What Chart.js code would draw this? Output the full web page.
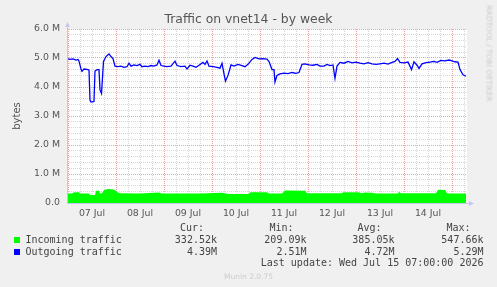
<!DOCTYPE html>
<html>
<head>
<meta charset="utf-8">
<script src="https://cdn.jsdelivr.net/npm/chart.js@4.4.1/dist/chart.umd.min.js"></script>
<style>
  body { margin: 0; background: #f0f0f0; }
  #wrap { position: relative; width: 497px; height: 287px; background: #f0f0f0; overflow: hidden; font-family: 'DejaVu Sans', sans-serif; }
  #wrap canvas { position: absolute; left: 0; top: 0; }
  .t { position: absolute; white-space: pre; color: #555; }
  .mono { font-family: 'DejaVu Sans Mono', monospace; font-size: 10px; line-height: 12px; color: #444; }
  .sq { position: absolute; width: 6px; height: 6px; }
</style>
</head>
<body>
<div id="wrap">
  <canvas id="c" width="497" height="287"></canvas>
</div>
<script>
// x values are hours after 07 Jul 00:00, y values in millions of bytes
const dayLabels = ['07 Jul', '08 Jul', '09 Jul', '10 Jul', '11 Jul', '12 Jul', '13 Jul', '14 Jul'];
const yTickLabels = ['0.0', '1.0 M', '2.0 M', '3.0 M', '4.0 M', '5.0 M', '6.0 M'];

const outHours = [-0.5, 1, 2.5, 4, 5, 5.5, 6.5, 7, 8, 10, 10.5, 11, 11.5, 13, 13.5, 14.5, 15.5, 16, 16.75, 17.75,
  19, 20.5, 21.5, 22.5, 23.5, 25, 26.5, 28, 29.5, 30.5, 31.5, 33, 34.5, 36, 37, 38.5, 40, 41.5, 43, 44.5,
  45.5, 46.5, 48, 49.5, 51.5, 53.5, 54.5, 56.5, 58.5, 59.5, 61, 62.5, 64, 65.5, 67.5, 68.5, 69.5, 70.5, 72.5, 74.5,
  76, 77, 78, 78.75, 80, 81.5, 83, 85, 87, 88.5, 90, 92, 93.5, 95.5, 97.5, 99.5, 100.5, 102, 103, 103.5,
  104.5, 106, 108, 110, 112, 114, 115.5, 117, 118.5, 120.5, 122.5, 124.5, 126, 128, 129.5, 131, 132.5, 133.5, 134.5, 136,
  138, 140, 142, 144, 146, 148, 150, 152, 154, 156, 158, 160, 162, 163.5, 164.75, 166, 168, 170, 171.75, 173,
  174.5, 175.5, 177, 179, 181, 183, 184.5, 186.5, 188.5, 190.5, 192, 193.5, 195, 196, 197.5, 199];
const outValues = [4.98, 4.95, 4.97, 4.93, 4.95, 4.89, 4.62, 4.54, 4.62, 4.6, 4.58, 3.55, 3.48, 3.5, 4.55, 4.6, 4.6, 3.9, 3.78, 4.88,
  5.05, 5.14, 5.05, 4.98, 4.72, 4.7, 4.72, 4.68, 4.7, 4.82, 4.72, 4.76, 4.74, 4.78, 4.7, 4.72, 4.7, 4.74, 4.72, 4.76,
  4.92, 4.74, 4.72, 4.7, 4.72, 4.89, 4.74, 4.7, 4.72, 4.62, 4.75, 4.72, 4.68, 4.75, 4.85, 4.78, 4.9, 4.72, 4.7, 4.68,
  4.65, 4.82, 4.45, 4.2, 4.4, 4.76, 4.72, 4.78, 4.74, 4.7, 4.78, 4.95, 5.02, 4.97, 4.98, 4.96, 4.88, 4.6, 4.6, 4.17,
  4.4, 4.45, 4.48, 4.46, 4.5, 4.47, 4.5, 4.78, 4.8, 4.76, 4.75, 4.78, 4.72, 4.72, 4.78, 4.74, 4.76, 4.3, 4.72, 4.85,
  4.82, 4.88, 4.83, 4.86, 4.82, 4.8, 4.84, 4.8, 4.78, 4.8, 4.82, 4.79, 4.85, 4.88, 4.98, 4.85, 4.83, 4.86, 4.6, 4.87,
  4.75, 4.64, 4.8, 4.84, 4.86, 4.88, 4.85, 4.92, 4.9, 4.93, 4.9, 4.87, 4.86, 4.6, 4.42, 4.37];

const inHours = [-0.5, 2, 3, 5.5, 6, 10.5, 11, 13.5, 14, 15.5, 16, 17, 18, 20, 22, 23.5, 24.5, 26, 36, 45.5,
  47, 66, 77, 79, 80.5, 90.5, 91, 99.5, 100.5, 107, 108.5, 118.5, 119.5, 137, 137.5, 145.5, 146.5, 148.5, 152, 154,
  165, 165.5, 166.5, 184, 185, 188.5, 189.5, 199];
const inValues = [0.33, 0.33, 0.37, 0.37, 0.33, 0.33, 0.28, 0.28, 0.42, 0.42, 0.33, 0.34, 0.45, 0.48, 0.47, 0.45, 0.38, 0.34, 0.33, 0.36,
  0.33, 0.33, 0.35, 0.33, 0.31, 0.31, 0.37, 0.37, 0.33, 0.33, 0.43, 0.42, 0.34, 0.34, 0.37, 0.37, 0.34, 0.36, 0.35, 0.33,
  0.33, 0.39, 0.34, 0.34, 0.46, 0.45, 0.33, 0.33];

const seriesNames = ['Incoming traffic', 'Outgoing traffic'];
const seriesColors = ['#00ff00', '#0000ff'];
const statHeads = ['Cur:', 'Min:', 'Avg:', 'Max:'];
const inStats = ['332.52k', '209.09k', '385.05k', '547.66k'];
const outStats = ['4.39M', '2.51M', '4.72M', '5.29M'];

const wrap = document.getElementById('wrap');
function addText(text, css, cls) {
    const d = document.createElement('div');
    d.className = 't' + (cls ? ' ' + cls : '');
    d.textContent = text;
    Object.assign(d.style, css);
    wrap.appendChild(d);
    return d;
}

const toPts = (hs, vs) => hs.map((h, i) => ({ x: h, y: vs[i] }));

const plotBg = {
    id: 'plotBg',
    beforeDraw(chart) {
        const { ctx, chartArea: a } = chart;
        ctx.save();
        ctx.fillStyle = '#ffffff';
        ctx.fillRect(a.left, a.top, a.right - a.left, a.bottom - a.top);
        ctx.restore();
    }
};

const axisArrows = {
    id: 'axisArrows',
    afterDatasetsDraw(chart) {
        const { ctx, chartArea: a } = chart;
        const x0 = a.left + 0.5, y0 = a.bottom + 0.5;
        ctx.save();
        ctx.strokeStyle = ctx.fillStyle = '#c6c6f0';
        ctx.lineWidth = 1;
        ctx.beginPath();
        ctx.moveTo(x0, a.bottom + 1);
        ctx.lineTo(x0, a.top - 3);
        ctx.moveTo(a.left, y0);
        ctx.lineTo(a.right + 3, y0);
        ctx.stroke();
        ctx.beginPath();
        ctx.moveTo(x0, a.top - 7);
        ctx.lineTo(x0 - 2.5, a.top - 2);
        ctx.lineTo(x0 + 2.5, a.top - 2);
        ctx.closePath();
        ctx.moveTo(a.right + 7, y0);
        ctx.lineTo(a.right + 2, y0 - 2.5);
        ctx.lineTo(a.right + 2, y0 + 2.5);
        ctx.closePath();
        ctx.fill();
        ctx.restore();
    }
};

const tickFont = { family: 'DejaVu Sans', size: 9.4 };
const majorGrid = '#eba4a4';
const minorGrid = '#d6d6d6';

new Chart(document.getElementById('c'), {
    type: 'line',
    data: {
        datasets: [
            {
                label: seriesNames[0],
                data: toPts(inHours, inValues),
                borderWidth: 0,
                borderColor: seriesColors[0],
                backgroundColor: seriesColors[0],
                fill: 'origin',
                pointRadius: 0,
                tension: 0,
                order: 2
            },
            {
                label: seriesNames[1],
                data: toPts(outHours, outValues),
                borderColor: seriesColors[1],
                borderWidth: 1.3,
                fill: false,
                pointRadius: 0,
                tension: 0,
                order: 1
            }
        ]
    },
    options: {
        responsive: false,
        animation: false,
        devicePixelRatio: 1,
        layout: { padding: { left: 0, top: 29, right: 30, bottom: 64 } },
        plugins: { legend: { display: false }, tooltip: { enabled: false }, title: { display: false } },
        scales: {
            x: {
                type: 'linear',
                min: -0.5,
                max: 199.5,
                afterBuildTicks: s => {
                    const t = [];
                    for (let h = 0; h <= 198; h += 6) t.push({ value: h });
                    s.ticks = t;
                },
                afterFit: s => { s.height = 20; },
                ticks: {
                    autoSkip: false,
                    maxRotation: 0,
                    padding: 5,
                    color: '#555',
                    font: tickFont,
                    callback: v => (v % 24 === 12 ? dayLabels[(v - 12) / 24] : '')
                },
                grid: {
                    drawTicks: false,
                    lineWidth: 1,
                    color: c => (c.tick && c.tick.value % 24 === 0 ? majorGrid : minorGrid)
                },
                border: { display: false, dash: [1, 1] }
            },
            y: {
                min: 0,
                max: 6,
                afterBuildTicks: s => {
                    const t = [];
                    for (let i = 0; i <= 30; i++) t.push({ value: i / 5 });
                    s.ticks = t;
                },
                afterFit: s => { s.width = 67; },
                ticks: {
                    autoSkip: false,
                    padding: 7,
                    color: '#555',
                    font: tickFont,
                    callback: v => {
                        const r = Math.round(v * 5);
                        return r % 5 === 0 ? yTickLabels[r / 5] : '';
                    }
                },
                grid: {
                    drawTicks: false,
                    lineWidth: 1,
                    color: c => (c.tick && Math.round(c.tick.value * 5) % 5 === 0 ? majorGrid : minorGrid)
                },
                border: { display: false, dash: [1, 1] }
            }
        }
    },
    plugins: [plotBg, axisArrows]
});

// title, axis label, side credit
addText('Traffic on vnet14 - by week', { left: '0px', width: '497px', textAlign: 'center', top: '11.7px', fontSize: '12.4px', lineHeight: '14px' });
addText('bytes', { left: '-13px', width: '60px', textAlign: 'center', top: '110px', fontSize: '10px', lineHeight: '12px', transform: 'rotate(-90deg)' });
addText('RRDTOOL / TOBI OETIKER', { left: '434px', width: '110px', textAlign: 'center', top: '49px', fontSize: '7.5px', lineHeight: '9px', color: '#cccccc', transform: 'rotate(90deg)' });
addText('Munin 2.0.75', { left: '0px', width: '497px', textAlign: 'center', top: '272.4px', fontSize: '7.5px', lineHeight: '9px', color: '#cccccc' });

// legend table
const rowTops = [222.1, 233.8, 245.5, 257];
const colRight = [217, 306.5, 394.5, 483.5];
statHeads.forEach((h, i) => {
    addText(h, { right: (497 - colRight[i] + 13) + 'px', top: rowTops[0] + 'px' }, 'mono');
});
[inStats, outStats].forEach((stats, r) => {
    const sq = document.createElement('div');
    sq.className = 'sq';
    sq.style.left = '14px';
    sq.style.top = (237 + r * 11.7) + 'px';
    sq.style.background = seriesColors[r];
    wrap.appendChild(sq);
    addText(seriesNames[r], { left: '25.5px', top: rowTops[r + 1] + 'px' }, 'mono');
    stats.forEach((s, i) => {
        addText(s, { right: (497 - colRight[i]) + 'px', top: rowTops[r + 1] + 'px' }, 'mono');
    });
});
addText('Last update: Wed Jul 15 07:00:00 2026', { right: (497 - colRight[3]) + 'px', top: rowTops[3] + 'px' }, 'mono');
</script>
</body>
</html>
